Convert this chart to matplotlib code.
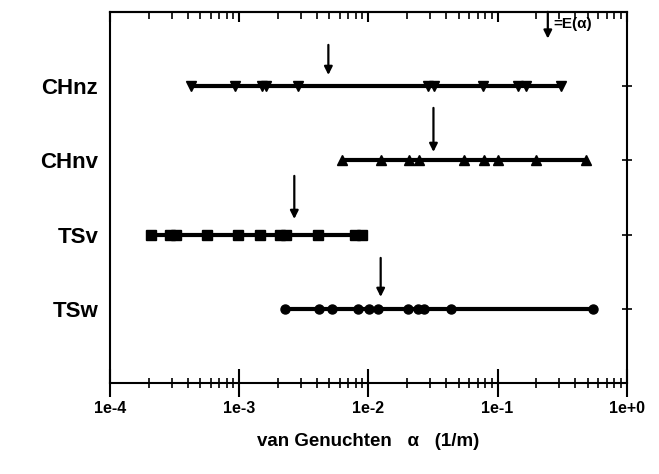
import matplotlib
matplotlib.use("Agg")
import matplotlib.pyplot as plt
from matplotlib.ticker import LogLocator, NullFormatter

plt.rcParams['font.family'] = ['Liberation Sans', 'DejaVu Sans']

categories = ["CHnz", "CHnv", "TSv", "TSw"]
cat_pos = [4, 3, 2, 1]

chnz = [4.2e-4, 9.3e-4, 1.51e-3, 1.62e-3, 2.87e-3, 0.0288, 0.0321, 0.0769, 0.1436, 0.166, 0.31]
chnv = [6.3e-3, 0.01245, 0.0205, 0.0245, 0.0548, 0.0783, 0.1005, 0.198, 0.484]
tsv = [2.08e-4, 2.92e-4, 3.25e-4, 5.66e-4, 9.84e-4, 1.46e-3, 2.08e-3, 2.32e-3, 4.04e-3, 7.9e-3, 8.9e-3]
tsw = [2.28e-3, 4.11e-3, 5.27e-3, 8.24e-3, 0.01005, 0.0118, 0.0201, 0.0241, 0.0268, 0.0435, 0.548]
series = [chnz, chnv, tsv, tsw]
markers = ["v", "^", "s", "o"]

# expected values E(alpha), with arrow tail/tip heights
e_alpha = [4.9e-3, 0.0319, 2.67e-3, 0.01245]
arrow_tail = [4.555, 3.706, 2.79, 1.685]
arrow_tip = [4.15, 3.113, 2.21, 1.16]

legend_alpha = 0.245
xtick_vals = [1e-4, 1e-3, 1e-2, 1e-1, 1e0]
xtick_labels = ["1e-4", "1e-3", "1e-2", "1e-1", "1e+0"]

fig = plt.figure(figsize=(6.59, 4.74), dpi=100)
ax = fig.add_axes([0.167, 0.192, 0.784, 0.783])

for vals, y, m in zip(series, cat_pos, markers):
    ax.plot([min(vals), max(vals)], [y, y], color='black', lw=3.0, solid_capstyle='butt', zorder=2)
    ax.plot(vals, [y] * len(vals), linestyle='none', marker=m, color='black', markersize=6.5, zorder=3)

arrow_props = dict(arrowstyle='-|>', color='black', lw=1.6, mutation_scale=12, shrinkA=0, shrinkB=0)
for x, t0, t1 in zip(e_alpha, arrow_tail, arrow_tip):
    ax.annotate("", xy=(x, t1), xytext=(x, t0), arrowprops=arrow_props)

ax.annotate("", xy=(legend_alpha, 4.64), xytext=(legend_alpha, 5.0), arrowprops=arrow_props,
            annotation_clip=False)
ax.text(legend_alpha * 1.1, 4.84, "=E(α)", fontsize=11, fontweight='bold', va='center', ha='left')

ax.set_xscale('log')
ax.set_xlim(1e-4, 1e0)
ax.set_ylim(0, 5)

ax.set_xticks(xtick_vals)
ax.set_xticklabels(xtick_labels, fontsize=11.5, fontweight='bold')
ax.xaxis.set_minor_locator(LogLocator(base=10, subs=range(2, 10)))
ax.xaxis.set_minor_formatter(NullFormatter())
ax.tick_params(axis='x', which='major', direction='inout', length=20, width=1.5, pad=3,
               top=False, bottom=True)
ax.tick_params(axis='x', which='minor', direction='inout', length=7, width=1.2, top=False, bottom=True)

# top axis: inward ticks only
top = ax.secondary_xaxis('top')
top.set_xticks(xtick_vals)
top.xaxis.set_minor_locator(LogLocator(base=10, subs=range(2, 10)))
top.xaxis.set_minor_formatter(NullFormatter())
top.tick_params(axis='x', which='major', direction='in', length=7, width=1.5, labeltop=False)
top.tick_params(axis='x', which='minor', direction='in', length=5, width=1.2)
top.set_xticklabels([])

ax.set_yticks(cat_pos)
ax.set_yticklabels(categories, fontsize=16, fontweight='bold')
ax.tick_params(axis='y', which='major', left=False, right=True, direction='inout', length=7,
               width=1.2, pad=5)

for sp in ax.spines.values():
    sp.set_linewidth(1.5)
top.spines['top'].set_linewidth(1.5)

ax.set_xlabel("van Genuchten   α   (1/m)", fontsize=13.5, fontweight='bold', labelpad=12)

fig.savefig("out.png", dpi=100)
